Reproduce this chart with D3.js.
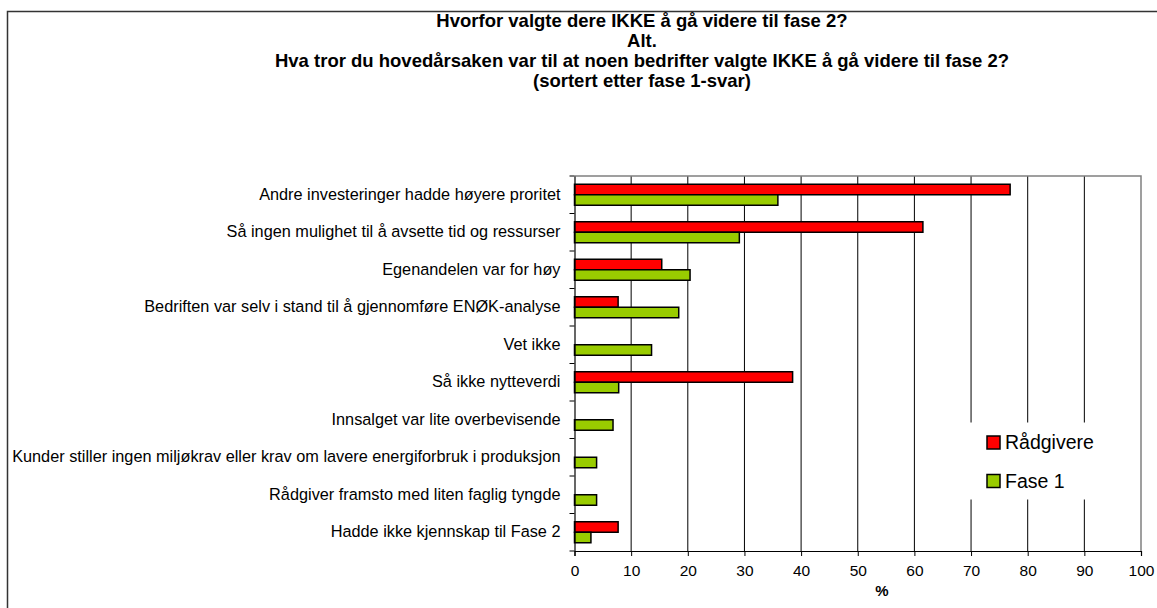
<!DOCTYPE html>
<html>
<head>
<meta charset="utf-8">
<script src="https://cdn.jsdelivr.net/npm/d3@7"></script>
<style>
  body { margin: 0; background: #fff; }
  text { font-family: "Liberation Sans", Arial, sans-serif; fill: #000; }
</style>
</head>
<body>
<div id="chart"></div>
<script>
// categories, top to bottom
const categories = [
    'Andre investeringer hadde høyere proritet',
    'Så ingen mulighet til å avsette tid og ressurser',
    'Egenandelen var for høy',
    'Bedriften var selv i stand til å gjennomføre ENØK-analyse',
    'Vet ikke',
    'Så ikke nytteverdi',
    'Innsalget var lite overbevisende',
    'Kunder stiller ingen miljøkrav eller krav om lavere energiforbruk i produksjon',
    'Rådgiver framsto med liten faglig tyngde',
    'Hadde ikke kjennskap til Fase 2'
];
const radgivere = [76.9, 61.5, 15.4, 7.7, 0, 38.5, 0, 0, 0, 7.7];
const fase1 = [35.9, 29.1, 20.4, 18.4, 13.6, 7.8, 6.8, 3.9, 3.9, 2.9];
const seriesNames = ['Rådgivere', 'Fase 1'];
const seriesColors = ['#ff0000', '#99cc00'];
const xTicks = [0, 10, 20, 30, 40, 50, 60, 70, 80, 90, 100];
const titleLines = [
    'Hvorfor valgte dere IKKE å gå videre til fase 2?',
    'Alt.',
    'Hva tror du hovedårsaken var til at noen bedrifter valgte IKKE å gå videre til fase 2?',
    '(sortert etter fase 1-svar)'
];

let width = 1157, height = 608;
let font = '"Liberation Sans", Arial, sans-serif';
let svg = d3.select('#chart').append('svg')
    .attr('width', width)
    .attr('height', height);

// outer frame (right and bottom edges fall outside the picture)
svg.append('rect')
    .attr('x', 7.5).attr('y', 11.5)
    .attr('width', 1160).attr('height', 610)
    .attr('fill', 'none')
    .attr('stroke', '#333')
    .attr('stroke-width', 1.5);

// title
svg.append('g').selectAll('text')
    .data(titleLines)
    .enter().append('text')
    .attr('x', 642)
    .attr('y', (d, i) => 26.5 + 20 * i)
    .attr('text-anchor', 'middle')
    .style('font-size', '18.5px')
    .style('font-weight', 'bold')
    .text(d => d);

let x = d3.scaleLinear().domain([0, 100]).range([574.5, 1141]);
let y = d3.scaleBand().domain(categories).range([176, 551]);
let barH = 10.5;

// gridlines
svg.append('g').selectAll('line')
    .data(xTicks.slice(1, -1))
    .enter().append('line')
    .attr('x1', d => x(d)).attr('x2', d => x(d))
    .attr('y1', 176).attr('y2', 551)
    .attr('stroke', '#000')
    .attr('stroke-width', 1);

// top and right border of plot area
svg.append('path')
    .attr('d', `M${x(0)},176H${x(100)}V551`)
    .attr('fill', 'none')
    .attr('stroke', '#808080')
    .attr('stroke-width', 1.5);

// legend background (covers gridlines)
let legend = svg.append('g');
legend.append('rect')
    .attr('x', 966).attr('y', 422.5)
    .attr('width', 150).attr('height', 77)
    .attr('fill', '#fff');

// bars
let rows = categories.map((c, i) => ({ cat: c, vals: [radgivere[i], fase1[i]] }));
let groups = svg.append('g').selectAll('g')
    .data(rows)
    .enter().append('g')
    .attr('transform', d => `translate(0,${y(d.cat) + y.bandwidth() / 2 - barH})`);

groups.selectAll('rect')
    .data(d => d.vals.map((v, k) => ({ v: v, k: k })).filter(e => e.v > 0))
    .enter().append('rect')
    .attr('x', x(0))
    .attr('y', d => d.k * barH)
    .attr('width', d => x(d.v) - x(0))
    .attr('height', barH)
    .attr('fill', d => seriesColors[d.k])
    .attr('stroke', '#000')
    .attr('stroke-width', 1.5);

// x axis
let xAxis = svg.append('g')
    .attr('transform', 'translate(0,551)')
    .call(d3.axisBottom(x).tickValues(xTicks).tickSize(5).tickPadding(9).tickFormat(d3.format('d')));
xAxis.select('.domain').attr('stroke', '#000').attr('stroke-width', 1.2);
xAxis.selectAll('.tick line').attr('stroke', '#000');
xAxis.selectAll('text').style('font-size', '15.5px').style('font-family', font);

svg.append('text')
    .attr('x', 882).attr('y', 596)
    .attr('text-anchor', 'middle')
    .style('font-size', '15px')
    .style('font-weight', 'bold')
    .text('%');

// y axis: line, ticks at band boundaries, labels at centers
let yAxis = svg.append('g')
    .attr('transform', `translate(${x(0)},0)`)
    .call(d3.axisLeft(y).tickSize(0).tickPadding(14));
yAxis.select('.domain').attr('stroke', '#000').attr('stroke-width', 1.2);
yAxis.selectAll('text').style('font-size', '16.3px').style('font-family', font);

let bounds = categories.map(c => y(c)).concat([y.range()[1]]);
svg.append('g').selectAll('line')
    .data(bounds)
    .enter().append('line')
    .attr('x1', x(0) - 5).attr('x2', x(0))
    .attr('y1', d => d).attr('y2', d => d)
    .attr('stroke', '#000');

// legend items
let items = legend.selectAll('g.item')
    .data(seriesNames)
    .enter().append('g')
    .attr('class', 'item')
    .attr('transform', (d, i) => `translate(987,${436 + 38.5 * i})`);
items.append('rect')
    .attr('width', 13).attr('height', 13)
    .attr('fill', (d, i) => seriesColors[i])
    .attr('stroke', '#000')
    .attr('stroke-width', 1.5);
items.append('text')
    .attr('x', 18).attr('y', 13)
    .style('font-size', '19.5px')
    .text(d => d);
</script>
</body>
</html>
